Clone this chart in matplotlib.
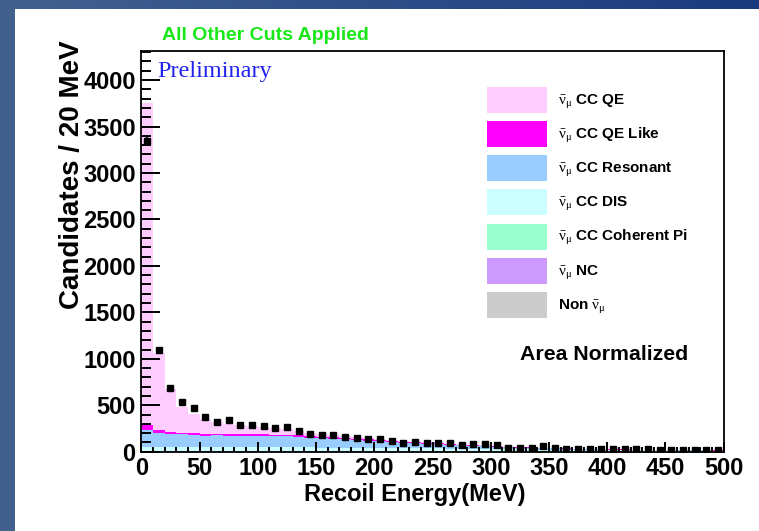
import numpy as np
import matplotlib.pyplot as plt
from matplotlib.patches import Patch, Rectangle
from matplotlib.colors import LinearSegmentedColormap
from matplotlib.ticker import MultipleLocator

plt.rcParams['font.family'] = ['Liberation Sans', 'DejaVu Sans']
plt.rcParams['mathtext.fontset'] = 'custom'
plt.rcParams['mathtext.rm'] = 'Liberation Serif'
plt.rcParams['mathtext.it'] = 'Liberation Serif:italic'
plt.rcParams['mathtext.bf'] = 'Liberation Serif:bold'

# 10 MeV bins from 0 to 500 MeV
edges = np.arange(0, 510, 10)

data = [3345, 1095, 682, 532, 474, 370, 323, 341, 291, 291,
        282, 252, 262, 223, 194, 176, 176, 153, 144, 133,
        135, 115, 94, 106, 97, 97, 97, 67, 80, 80,
        67, 43, 43, 43, 56, 42, 32, 29, 25, 25,
        32, 25, 29, 29, 22, 18, 18, 18, 18, 18]

# stacked MC components, bottom to top
non_numu = [2, 2, 2, 2, 2, 2, 2, 2, 2, 2,
            2, 2, 2, 2, 2, 2, 2, 2, 2, 2,
            1, 1, 1, 1, 1, 1, 1, 1, 1, 1,
            1, 1, 1, 1, 1, 1, 1, 1, 1, 1,
            1, 1, 1, 1, 1, 1, 1, 1, 1, 1]
nc = [3, 3, 3, 3, 3, 3, 3, 3, 3, 3,
      3, 3, 3, 3, 3, 3, 2, 2, 2, 2,
      2, 2, 2, 2, 2, 2, 2, 2, 2, 2,
      1, 1, 1, 1, 1, 1, 1, 1, 1, 1,
      1, 1, 1, 1, 1, 1, 1, 1, 1, 1]
coherent = [2, 2, 2, 2, 2, 2, 2, 2, 2, 2,
            2, 2, 2, 2, 2, 1, 1, 1, 1, 1,
            1, 1, 1, 1, 1, 1, 1, 1, 1, 1,
            1, 1, 1, 1, 1, 1, 1, 1, 1, 1,
            0, 0, 0, 0, 0, 0, 0, 0, 0, 0]
dis = [46, 45, 45, 44, 44, 43, 43, 43, 42, 42,
       41, 41, 41, 40, 40, 39, 39, 38, 37, 37,
       36, 35, 34, 33, 32, 31, 30, 28, 27, 26,
       25, 24, 22, 21, 20, 19, 18, 17, 16, 15,
       14, 13, 13, 12, 11, 11, 10, 10, 9, 9]
resonant = [181, 153, 138, 135, 127, 124, 125, 122, 123, 121,
            122, 120, 120, 113, 105, 101, 96, 91, 84, 78,
            74, 67, 60, 55, 50, 45, 40, 37, 32, 29,
            26, 22, 20, 17, 15, 13, 11, 9, 8, 7,
            7, 6, 5, 5, 4, 3, 3, 2, 2, 1]
qe_like = [53, 29, 22, 20, 18, 18, 17, 17, 17, 16,
           16, 16, 15, 15, 14, 14, 13, 13, 12, 12,
           11, 11, 10, 10, 9, 9, 8, 8, 7, 7,
           6, 6, 6, 5, 5, 5, 4, 4, 4, 3,
           3, 3, 3, 3, 2, 2, 2, 2, 2, 2]
qe = [3470, 825, 460, 274, 214, 158, 128, 111, 101, 94,
      79, 71, 57, 50, 39, 30, 22, 18, 17, 13,
      10, 8, 7, 6, 5, 3, 3, 2, 3, 1,
      1, 1, 0, 1, 0, 0, 0, 0, 0, 0,
      0, 0, 0, 0, 0, 0, 0, 0, 0, 0]

components = [non_numu, nc, coherent, dis, resonant, qe_like, qe]
colors = ['#cccccc', '#cc99ff', '#99ffcc', '#ccffff', '#99ccff', '#ff00ff', '#ffccff']
nubar = r'$\bar{\mathrm{ν}}_{\mathrm{μ}}$'
labels = ['Non ' + nubar, nubar + ' NC',
          nubar + ' CC Coherent Pi', nubar + ' CC DIS',
          nubar + ' CC Resonant', nubar + ' CC QE Like',
          nubar + ' CC QE']

W, H = 759, 531
fig = plt.figure(figsize=(W / 100, H / 100), dpi=100)

# slide border: blue band on the left and along the top
bg = fig.add_axes([0, 0, 1, 1])
bg.axis('off')
band = LinearSegmentedColormap.from_list('band', ['#43618f', '#1a3a80'])
bg.imshow(np.linspace(0, 1, 256)[None, :], cmap=band, aspect='auto',
          extent=[0, 1, 0, 1])
bg.add_patch(Rectangle((15 / W, 0), 1, 1 - 9 / H, color='white', lw=0))
bg.set_xlim(0, 1)
bg.set_ylim(0, 1)

x0, x1 = 141.3, 723.7
y0, y1 = 451.7, 51
ax = fig.add_axes([x0 / W, 1 - y0 / H, (x1 - x0) / W, (y0 - y1) / H])

bottom = np.zeros(len(edges) - 1)
for vals, c in zip(components, colors):
    top = bottom + np.array(vals, dtype=float)
    ax.stairs(top, edges, baseline=bottom, fill=True, color=c, lw=0)
    bottom = top

centers = 0.5 * (edges[:-1] + edges[1:])
data = np.array(data, dtype=float)
ax.errorbar(centers, data, yerr=np.sqrt(data), fmt='s', color='black',
            ms=4.2, elinewidth=1.2, capsize=0, zorder=5)

ax.set_xlim(0, 500)
ax.set_ylim(0, 4313)
ax.xaxis.set_major_locator(MultipleLocator(50))
ax.xaxis.set_minor_locator(MultipleLocator(10))
ax.yaxis.set_major_locator(MultipleLocator(500))
ax.yaxis.set_minor_locator(MultipleLocator(100))
ax.tick_params(axis='both', which='both', direction='in', width=1.4,
               top=False, right=False, labelsize=17)
ax.tick_params(axis='y', which='major', length=13.5, pad=4)
ax.tick_params(axis='y', which='minor', length=7)
ax.tick_params(axis='x', which='major', length=7, pad=4)
ax.tick_params(axis='x', which='minor', length=3.5)
for lab in ax.get_xticklabels() + ax.get_yticklabels():
    lab.set_fontweight('bold')
for s in ax.spines.values():
    s.set_linewidth(1.3)

fig.text(415 / W, 1 - 494 / H, 'Recoil Energy(MeV)', ha='center', va='center',
         fontsize=17, fontweight='bold')
fig.text(72 / W, 1 - 175 / H, 'Candidates / 20 MeV', ha='center', va='center',
         rotation=90, fontsize=20, fontweight='bold')

fig.text(162 / W, 1 - 35 / H, 'All Other Cuts Applied', ha='left', va='center',
         fontsize=14, fontweight='bold', color='#18e818')
fig.text(157 / W, 1 - 71 / H, 'Preliminary', ha='left', va='center',
         fontsize=17.5, family='Liberation Serif', color='#2222ee')
fig.text(604 / W, 1 - 354 / H, 'Area Normalized', ha='center', va='center',
         fontsize=15.3, fontweight='bold')

handles = [Patch(facecolor=c, edgecolor='none') for c in colors]
ax.legend(handles[::-1], labels[::-1], loc='upper left',
          bbox_to_anchor=(0.5936, 0.911), frameon=False, borderpad=0,
          borderaxespad=0, prop={'weight': 'bold', 'size': 11},
          handlelength=3.93, handleheight=2.24, labelspacing=0.54,
          handletextpad=0.72)

fig.savefig('out.png', dpi=100)
